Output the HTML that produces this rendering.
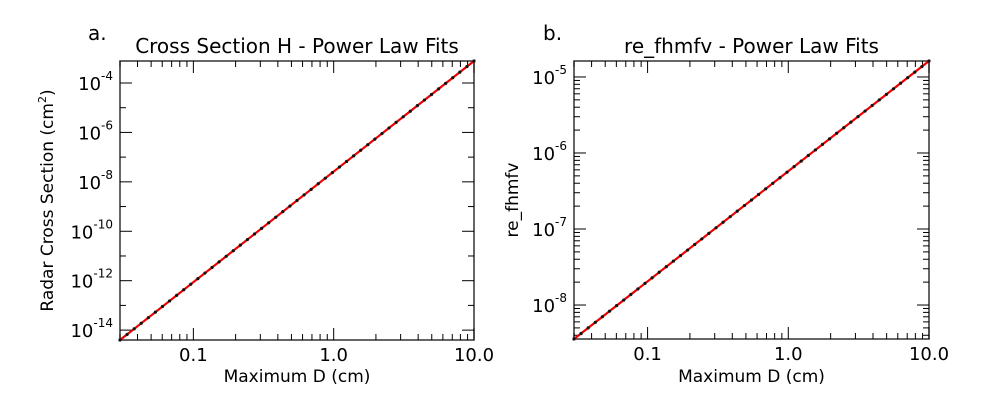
<!DOCTYPE html>
<html><head><meta charset="utf-8"><style>body{margin:0;background:#fff}svg{display:block;font-family:"DejaVu Sans","Liberation Sans",sans-serif}</style></head>
<body><svg id="s" width="1000" height="400" xmlns="http://www.w3.org/2000/svg"></svg>
<script>
const s=document.getElementById('s');let h='';
function panel(L,R,T,B,y0,y1,majStep,minorAll,title,tag,tagx,ylab,ylabx){
  const x0=Math.log10(0.03),x1=1;
  const X=v=>L+(Math.log10(v)-x0)/(x1-x0)*(R-L);
  const Y=v=>B-(v-y0)/(y1-y0)*(B-T);
  h+=`<rect x="${L}" y="${T}" width="${R-L}" height="${B-T}" fill="none" stroke="#333" stroke-width="1.5"/>`;
  for(let d=-2;d<=1;d++)for(let m=1;m<10;m++){const v=m*Math.pow(10,d);if(v<0.03-1e-9||v>10+1e-9)continue;const x=X(v);const l=m==1?12:6;
    h+=`<line x1="${x}" y1="${B}" x2="${x}" y2="${B-l}" stroke="#000"/><line x1="${x}" y1="${T}" x2="${x}" y2="${T+l}" stroke="#000"/>`;}
  [[0.1,'0.1'],[1,'1.0'],[10,'10.0']].forEach(([v,t])=>h+=`<text x="${X(v)}" y="${B+21}" font-size="18" text-anchor="middle">${t}</text>`);
  for(let e=Math.floor(y0);e<=Math.ceil(y1);e++){
    for(let m=1;m<10;m++){ if(m>1&&!minorAll)continue; const v=e+Math.log10(m); if(v<y0||v>y1)continue;
      const y=Y(v);const major=(m==1&&e%majStep==0);const l=major?12:6;
      h+=`<line x1="${L}" y1="${y}" x2="${L+l}" y2="${y}" stroke="#000"/><line x1="${R}" y1="${y}" x2="${R-l}" y2="${y}" stroke="#000"/>`;
      if(major)h+=`<text x="${L-7}" y="${y+7}" font-size="18" text-anchor="end">10<tspan dy="-10" font-size="12">${e}</tspan></text>`;}
  }
  h+=`<line x1="${L}" y1="${B}" x2="${R}" y2="${T}" stroke="#e00" stroke-width="2.2"/>`;
  for(let i=0;i<=50;i++){const f=i/50;h+=`<circle cx="${L+f*(R-L)}" cy="${B-f*(B-T)}" r="1.6" fill="#111"/>`;}
  h+=`<text x="${(L+R)/2}" y="${T-8}" font-size="20" text-anchor="middle">${title}</text>`;
  h+=`<text x="${tagx}" y="40" font-size="20">${tag}</text>`;
  h+=`<text x="${(L+R)/2}" y="382" font-size="17" text-anchor="middle">Maximum D (cm)</text>`;
  h+=`<text transform="translate(${ylabx},${(T+B)/2}) rotate(-90)" font-size="17" text-anchor="middle">${ylab}</text>`;
}
panel(120,474,61,340,-14.4,-3.11,2,false,'Cross Section H - Power Law Fits','a.',88,'Radar Cross Section (cm<tspan dy="-7" font-size="11">2</tspan><tspan dy="7">)</tspan>',53);
panel(574,929,61,339,-8.447,-4.79,1,true,'re_fhmfv - Power Law Fits','b.',543,'re_fhmfv',518);
s.innerHTML=h;
</script></body></html>
